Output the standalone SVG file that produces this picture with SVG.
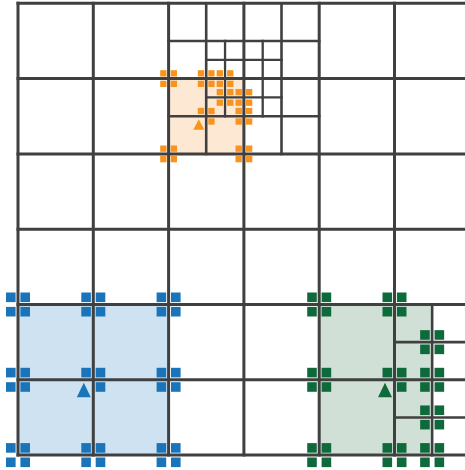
<svg xmlns="http://www.w3.org/2000/svg" xmlns:xlink="http://www.w3.org/1999/xlink" width="465" height="470" viewBox="0 0 465 470">
<style>
.g0{stroke:#404040;stroke-width:3;fill:none;stroke-linecap:square}
.g1{stroke:#404040;stroke-width:2.6;fill:none;stroke-linecap:square}
.g2{stroke:#404040;stroke-width:2.3;fill:none;stroke-linecap:square}
.blue{fill:#1a74b9}
.green{fill:#0f6a3b}
.orange{fill:#f7931e}
</style>
<defs>
<g id="q4">
<rect x="-12" y="-12" width="9.6" height="9.6"/>
<rect x="2.4" y="-12" width="9.6" height="9.6"/>
<rect x="-12" y="2.4" width="9.6" height="9.6"/>
<rect x="2.4" y="2.4" width="9.6" height="9.6"/>
</g>
<g id="q4s">
<rect x="-8.4" y="-8.4" width="6.3" height="6.3"/>
<rect x="2.1" y="-8.4" width="6.3" height="6.3"/>
<rect x="-8.4" y="2.1" width="6.3" height="6.3"/>
<rect x="2.1" y="2.1" width="6.3" height="6.3"/>
</g>
</defs>
<rect width="465" height="470" fill="#ffffff"/>
<g id="fills">
<rect x="18" y="304.5" width="150.6" height="150.6" fill="#cfe2f1"/>
<rect x="319.2" y="304.5" width="112.95" height="150.6" fill="#d1e0d7"/>
<rect x="168.6" y="78.6" width="75.3" height="75.3" fill="#fde8d3"/>
</g>
<g id="grid">
<path class="g0" d="M18 3.3H470M18 78.6H470M18 153.9H470M18 229.2H470M18 304.5H470M18 379.8H470M18 455.1H470"/>
<path class="g0" d="M18 3.3V455.1M93.3 3.3V455.1M168.6 3.3V455.1M243.9 3.3V455.1M319.2 3.3V455.1M394.5 3.3V455.1"/>
<path class="g1" d="M206.2 3.3V153.9M281.5 3.3V153.9M168.6 40.95H319.2M168.6 116.25H319.2"/>
<path class="g2" d="M225.05 40.95V116.25M262.7 40.95V116.25M206.2 59.8H281.5M206.2 97.4H281.5"/>
<path class="g1" d="M432.15 304.5V455.1M394.5 342.15H470M394.5 417.45H470"/>
</g>
<g id="stencil-blue" class="blue">
<use xlink:href="#q4" transform="translate(18,304.5)"/>
<use xlink:href="#q4" transform="translate(93.3,304.5)"/>
<use xlink:href="#q4" transform="translate(168.6,304.5)"/>
<use xlink:href="#q4" transform="translate(18,379.8)"/>
<use xlink:href="#q4" transform="translate(168.6,379.8)"/>
<use xlink:href="#q4" transform="translate(18,455.1)"/>
<use xlink:href="#q4" transform="translate(93.3,455.1)"/>
<use xlink:href="#q4" transform="translate(168.6,455.1)"/>
<g transform="translate(93.3,379.8)">
<rect x="-12" y="-12" width="9.6" height="9.6"/>
<rect x="2.4" y="-12" width="9.6" height="9.6"/>
<rect x="2.4" y="2.4" width="9.6" height="9.6"/>
<polygon points="-9.5,3 -16.5,17.5 -2.5,17.5"/>
</g>
</g>
<g id="stencil-green" class="green">
<use xlink:href="#q4" transform="translate(319.2,304.5)"/>
<use xlink:href="#q4" transform="translate(394.5,304.5)"/>
<use xlink:href="#q4" transform="translate(319.2,379.8)"/>
<use xlink:href="#q4" transform="translate(319.2,455.1)"/>
<use xlink:href="#q4" transform="translate(394.5,455.1)"/>
<use xlink:href="#q4" transform="translate(432.15,342.15)"/>
<use xlink:href="#q4" transform="translate(432.15,379.8)"/>
<use xlink:href="#q4" transform="translate(432.15,417.45)"/>
<use xlink:href="#q4" transform="translate(432.15,455.1)"/>
<g transform="translate(394.5,379.8)">
<rect x="-12" y="-12" width="9.6" height="9.6"/>
<rect x="2.4" y="-12" width="9.6" height="9.6"/>
<rect x="2.4" y="2.4" width="9.6" height="9.6"/>
<polygon points="-9.5,3 -16.5,17.5 -2.5,17.5"/>
</g>
</g>
<g id="stencil-orange" class="orange">
<use xlink:href="#q4s" transform="translate(168.6,78.6)"/>
<use xlink:href="#q4s" transform="translate(206.2,78.6)"/>
<use xlink:href="#q4s" transform="translate(225.05,78.6)"/>
<use xlink:href="#q4s" transform="translate(225.05,97.4)"/>
<use xlink:href="#q4s" transform="translate(243.9,97.4)"/>
<use xlink:href="#q4s" transform="translate(243.9,116.25)"/>
<use xlink:href="#q4s" transform="translate(168.6,153.9)"/>
<use xlink:href="#q4s" transform="translate(243.9,153.9)"/>
<g transform="translate(206.2,116.25)">
<rect x="-8.4" y="-8.4" width="6.3" height="6.3"/>
<rect x="2.1" y="-8.4" width="6.3" height="6.3"/>
<rect x="2.1" y="2.1" width="6.3" height="6.3"/>
<polygon points="-7.4,3 -12.9,13.4 -1.9,13.4"/>
</g>
</g>
</svg>
